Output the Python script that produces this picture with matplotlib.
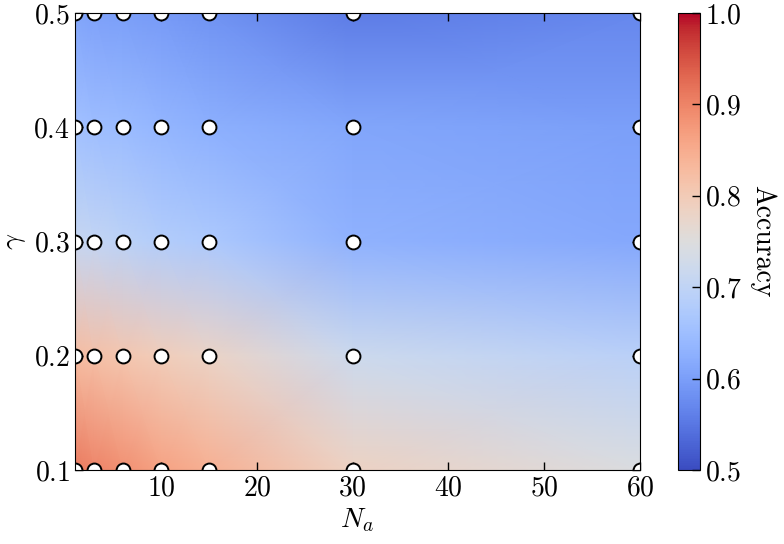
import numpy as np
import matplotlib
matplotlib.use("Agg")
import matplotlib.pyplot as plt

plt.rcParams['font.family'] = 'serif'
plt.rcParams['font.serif'] = ['cmr10']
plt.rcParams['mathtext.fontset'] = 'cm'
plt.rcParams['axes.formatter.use_mathtext'] = True
plt.rcParams['font.size'] = 20

# sampled grid
n_a = [1, 3, 6, 10, 15, 30, 60]
gamma = [0.1, 0.2, 0.3, 0.4, 0.5]

# accuracy, one row per gamma value
acc_g01 = [0.91, 0.90, 0.885, 0.865, 0.845, 0.785, 0.745]
acc_g02 = [0.825, 0.82, 0.81, 0.795, 0.78, 0.72, 0.69]
acc_g03 = [0.71, 0.705, 0.695, 0.68, 0.67, 0.63, 0.615]
acc_g04 = [0.655, 0.65, 0.645, 0.635, 0.625, 0.61, 0.60]
acc_g05 = [0.61, 0.605, 0.60, 0.595, 0.585, 0.555, 0.57]

acc = np.array([acc_g01, acc_g02, acc_g03, acc_g04, acc_g05])

fig = plt.figure(figsize=(7.84, 5.44), dpi=100)
ax = fig.add_axes([75 / 784, 74 / 544, 565 / 784, 457 / 544])
cax = fig.add_axes([678 / 784, 74 / 544, 22 / 784, 457 / 544])

mesh = ax.pcolormesh(n_a, gamma, acc, shading='gouraud', cmap='coolwarm',
                     vmin=0.5, vmax=1.0)

X, Y = np.meshgrid(n_a, gamma)
ax.plot(X.ravel(), Y.ravel(), 'o', ms=10, mfc='white', mec='black', mew=1.4,
        zorder=2)

ax.set_xlim(1, 60)
ax.set_ylim(0.1, 0.5)
ax.set_xticks([10, 20, 30, 40, 50, 60])
ax.set_yticks([0.1, 0.2, 0.3, 0.4, 0.5])
ax.tick_params(direction='in', top=True, right=True, length=6, width=1)
ax.set_xlabel(r'$N_a$')
ax.set_ylabel(r'$\gamma$')

cb = fig.colorbar(mesh, cax=cax)
cb.set_ticks([0.5, 0.6, 0.7, 0.8, 0.9, 1.0])
cb.ax.tick_params(direction='in', length=6, width=1)
cb.set_label('Accuracy', rotation=270, labelpad=24)

fig.savefig('out.png', dpi=100)
